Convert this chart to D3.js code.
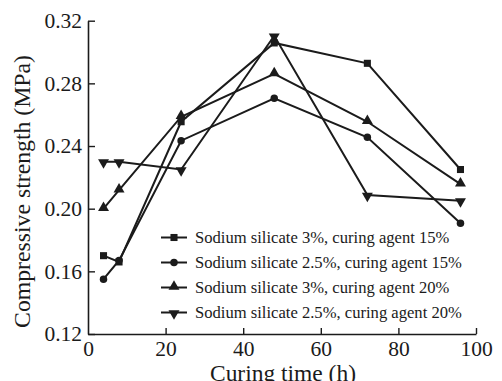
<!DOCTYPE html>
<html>
<head>
<meta charset="utf-8">
<script src="https://cdn.jsdelivr.net/npm/d3@7"></script>
<style>
  html, body { margin: 0; padding: 0; background: #fff; }
</style>
</head>
<body>
<svg id="chart" width="502" height="381"></svg>
<script>
const hours = [4, 8, 24, 48, 72, 96];
const seriesNames = [
  "Sodium silicate 3%, curing agent 15%",
  "Sodium silicate 2.5%, curing agent 15%",
  "Sodium silicate 3%, curing agent 20%",
  "Sodium silicate 2.5%, curing agent 20%",
];
const silicate3Agent15 = [0.170, 0.166, 0.2555, 0.3058, 0.2928, 0.225];
const silicate25Agent15 = [0.155, 0.167, 0.2434, 0.2705, 0.2456, 0.1907];
const silicate3Agent20 = [0.200, 0.2119, 0.2587, 0.286, 0.2555, 0.2157];
const silicate25Agent20 = [0.230, 0.230, 0.225, 0.3104, 0.2087, 0.2051];
const xTicks = [0, 20, 40, 60, 80, 100];
const yTicks = [0.12, 0.16, 0.20, 0.24, 0.28, 0.32];

const series = [silicate3Agent15, silicate25Agent15, silicate3Agent20, silicate25Agent20];
const markerKind = ["square", "circle", "up", "down"];
const ink = "#1b1b1b";
const serifFont = '"Liberation Serif"';

const svg = d3.select("#chart");
const x = d3.scaleLinear().domain([0, 100]).range([88, 476]);
const y = d3.scaleLinear().domain([0.12, 0.32]).range([334, 20.7]);

function markerPath(kind) {
  if (kind === "square") return d3.symbol(d3.symbolSquare, 50)();
  if (kind === "circle") return d3.symbol(d3.symbolCircle, 44)();
  return d3.symbol(d3.symbolTriangle, 52)();
}
function markerTransform(kind, px, py) {
  const flip = kind === "down" ? " rotate(180)" : "";
  const dy = kind === "up" ? -0.8 : kind === "down" ? 0.8 : 0;
  return `translate(${px},${py + dy})${flip}`;
}

// scale the font so the text spans about the length seen in the reference
function fitText(sel, size, target) {
  sel.style("font-size", `${size}px`);
  const len = sel.node().getComputedTextLength();
  if (len > 0) sel.style("font-size", `${(size * target / len).toFixed(2)}px`);
}

// axes
const xAxis = d3.axisBottom(x).tickValues(xTicks).tickSizeInner(-6).tickSizeOuter(0)
  .tickFormat(d3.format("d"));
const yAxis = d3.axisLeft(y).tickValues(yTicks).tickSizeInner(-7).tickSizeOuter(0).tickPadding(6)
  .tickFormat(d3.format(".2f"));

const gx = svg.append("g").attr("transform", `translate(0,${y(0.12)})`).call(xAxis);
const gy = svg.append("g").attr("transform", `translate(${x(0)},0)`).call(yAxis);
[gx, gy].forEach((g) => {
  g.attr("font-family", null).attr("font-size", null);
  g.select(".domain").attr("stroke", ink).attr("stroke-width", 1.6);
  g.selectAll(".tick line").attr("stroke", ink).attr("stroke-width", 1.4);
  g.selectAll(".tick text").attr("fill", ink)
    .style("font-family", serifFont).style("font-size", "21.5px");
});
gx.selectAll(".tick").filter((d) => d === 0).select("line").remove();
gx.selectAll(".tick text").attr("y", 21.5).attr("dy", null);

// axis titles
const xTitle = svg.append("text")
  .attr("x", 283).attr("y", 380.5)
  .attr("text-anchor", "middle").style("font-family", serifFont)
  .attr("fill", ink)
  .text("Curing time (h)");
fitText(xTitle, 23, 146);
const yTitle = svg.append("text")
  .attr("transform", "translate(29.5,191.5) rotate(-90)")
  .attr("text-anchor", "middle").style("font-family", serifFont)
  .attr("fill", ink)
  .text("Compressive strength (MPa)");
fitText(yTitle, 23, 273);

// lines
const line = d3.line().x((d, i) => x(hours[i])).y((d) => y(d));
series.forEach((vals, s) => {
  svg.append("path").datum(vals)
    .attr("d", line).attr("fill", "none")
    .attr("stroke", ink).attr("stroke-width", 2);
  svg.append("g").selectAll("path").data(vals).join("path")
    .attr("d", markerPath(markerKind[s]))
    .attr("transform", (d, i) => markerTransform(markerKind[s], x(hours[i]), y(d)))
    .attr("fill", ink);
});

// legend
const legend = svg.append("g");
seriesNames.forEach((name, s) => {
  const ly = 237.5 + s * 25;
  legend.append("line").attr("x1", 161).attr("x2", 187).attr("y1", ly).attr("y2", ly)
    .attr("stroke", ink).attr("stroke-width", 2);
  legend.append("path").attr("d", markerPath(markerKind[s]))
    .attr("transform", markerTransform(markerKind[s], 174, ly)).attr("fill", ink);
  legend.append("text").attr("x", 195).attr("y", ly).attr("dy", "0.35em")
    .style("font-family", serifFont).style("font-size", "16.6px")
    .attr("fill", ink).text(name);
});
</script>
</body>
</html>
